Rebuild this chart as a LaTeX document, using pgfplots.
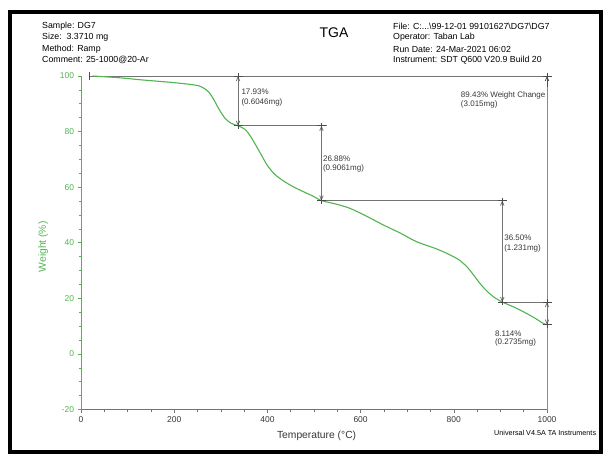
\documentclass[border=0pt]{standalone}
\usepackage{fontspec}
\setmainfont{Liberation Sans}
\usepackage{pgfplots}
\pgfplotsset{compat=1.18}
\usetikzlibrary{arrows.meta}
\definecolor{tgagreen}{RGB}{80,180,80}
\definecolor{anngray}{RGB}{115,115,115}
\definecolor{txtgray}{RGB}{55,55,55}
\newcommand{\hdr}{\fontsize{8.8bp}{10bp}\selectfont}
\newcommand{\ann}{\fontsize{8bp}{9bp}\selectfont}
\newcommand{\varrow}[3]{%
  \draw[anngray, line width=0.8bp, {Straight Barb[length=4bp,width=3.5bp]}-{Straight Barb[length=4bp,width=3.5bp]}] (axis cs:#1,#2) -- (axis cs:#1,#3);
  \draw[black!70, line width=0.8bp] ([xshift=-4.5bp]axis cs:#1,#2) -- ([xshift=4.5bp]axis cs:#1,#2);
  \draw[black!70, line width=0.8bp] ([yshift=3bp]axis cs:#1,#2) -- ([yshift=-3bp]axis cs:#1,#2);
  \draw[black!70, line width=0.8bp] ([xshift=-4.5bp]axis cs:#1,#3) -- ([xshift=4.5bp]axis cs:#1,#3);
  \draw[black!70, line width=0.8bp] ([yshift=3bp]axis cs:#1,#3) -- ([yshift=-3bp]axis cs:#1,#3);
}
\begin{document}
\begin{tikzpicture}
\useasboundingbox (0bp,0bp) rectangle (605bp,455bp);
\draw[line width=4bp] (9.5bp,3bp) rectangle (601bp,443bp);
% header left
\node[anchor=west, font=\hdr, inner sep=0] at (42bp,429bp) {Sample: DG7};
\node[anchor=west, font=\hdr, inner sep=0] at (42bp,417.5bp) {Size:\ \ 3.3710 mg};
\node[anchor=west, font=\hdr, inner sep=0] at (42bp,406bp) {Method: Ramp};
\node[anchor=west, font=\hdr, inner sep=0] at (42bp,395bp) {Comment: 25-1000@20-Ar};
% title
\node[font=\fontsize{14bp}{16bp}\selectfont, inner sep=0] at (334bp,422bp) {TGA};
% header right
\node[anchor=west, font=\hdr, inner sep=0] at (393bp,429bp) {File: C:...\textbackslash 99-12-01 99101627\textbackslash DG7\textbackslash DG7};
\node[anchor=west, font=\hdr, inner sep=0] at (393bp,417.5bp) {Operator: Taban Lab};
\node[anchor=west, font=\hdr, inner sep=0] at (393bp,406bp) {Run Date: 24-Mar-2021 06:02};
\node[anchor=west, font=\hdr, inner sep=0] at (393bp,395bp) {Instrument: SDT Q600 V20.9 Build 20};
% footer
\node[anchor=west, font=\fontsize{7.2bp}{8bp}\selectfont, inner sep=0] at (494bp,22bp) {Universal V4.5A TA Instruments};
\begin{axis}[
  at={(81bp,45.4bp)}, anchor=south west,
  scale only axis, width=466bp, height=333.6bp,
  xmin=0, xmax=1000, ymin=-20, ymax=100,
  clip=false,
  axis x line*=bottom, axis y line*=left,
  x axis line style={anngray, line width=0.8bp, -},
  y axis line style={tgagreen, line width=0.8bp, -},
  xtick={0,200,...,1000}, ytick={-20,0,...,100},
  minor x tick num=3, minor y tick num=3,
  tick align=outside,
  major tick length=3.5bp, minor tick length=2.5bp,
  x tick style={anngray, line width=0.6bp},
  y tick style={tgagreen, line width=0.6bp},
  x tick label style={font=\fontsize{8.5bp}{9bp}\selectfont, text=txtgray},
  y tick label style={font=\fontsize{8.5bp}{9bp}\selectfont, text=tgagreen},
  /pgf/number format/assume math mode=true,
  /pgf/number format/set thousands separator={},
  xlabel={Temperature (°C)},
  ylabel={Weight (\%)},
  every axis x label/.style={at={([xshift=2.6bp,yshift=-26.4bp]axis description cs:0.5,0)}, anchor=center, font=\fontsize{10.3bp}{11bp}\selectfont, text=txtgray},
  every axis y label/.style={at={([xshift=-37.7bp,yshift=-4bp]axis description cs:0,0.5)}, anchor=center, rotate=90, font=\fontsize{10.3bp}{11bp}\selectfont, text=tgagreen},
]
% reference lines
\draw[anngray, line width=0.8bp] (axis cs:19,100) -- (axis cs:1010,100);
\draw[black!70, line width=0.8bp] ([yshift=4bp]axis cs:19,100) -- ([yshift=-4bp]axis cs:19,100);
\draw[anngray, line width=0.8bp] (axis cs:337,82.07) -- (axis cs:527,82.07);
\draw[anngray, line width=0.8bp] (axis cs:516,55.19) -- (axis cs:913,55.19);
\draw[anngray, line width=0.8bp] (axis cs:904,18.69) -- (axis cs:1010,18.69);
% green vertical at 1000
\draw[tgagreen, line width=1bp] (axis cs:1000,100) -- (axis cs:1000,-20);
\draw[black!70, line width=0.8bp, -{Straight Barb[length=4bp,width=3.5bp]}] (axis cs:1000,96) -- (axis cs:1000,100);
\draw[black!70, line width=0.8bp] ([xshift=-4.5bp]axis cs:1000,100) -- ([xshift=4.5bp]axis cs:1000,100);
\draw[black!70, line width=0.8bp] ([yshift=3bp]axis cs:1000,100) -- ([yshift=-3bp]axis cs:1000,100);
% curve
\addplot[tgagreen, line width=1.1bp, smooth, tension=0.45] coordinates {
(25,100) (80,99.4) (130,98.6) (200,97.6) (252,96.5) (273,94.4) (285,91.5)
(295,88.4) (309,84.8) (322,83.0) (337,82.07) (352,80.8) (365,78.0) (384,72.5)
(400,67.8) (416,64.6) (434,62.3) (455,60.2) (477,58.4) (500,56.6) (516,55.19)
(550,53.8) (577,52.4) (610,49.8) (649,46.4) (685,43.5) (720,40.4) (760,38)
(785,36.2) (810,34) (828,31.4) (842,28.5) (856,25.4) (870,22.8) (885,20.6)
(904,18.69) (930,16.8) (956,14.6) (975,12.8) (992,11) (1000,10.57)
};
% step arrows
\varrow{337}{100}{82.07}
\varrow{516}{82.07}{55.19}
\varrow{904}{55.19}{18.69}
\varrow{1000}{18.69}{10.57}
% texts
\node[anchor=west, font=\ann, text=txtgray, inner sep=0] at (axis cs:344,94.2) {17.93\%};
\node[anchor=west, font=\ann, text=txtgray, inner sep=0] at (axis cs:344,90.4) {(0.6046mg)};
\node[anchor=west, font=\ann, text=txtgray, inner sep=0] at (axis cs:519,70.4) {26.88\%};
\node[anchor=west, font=\ann, text=txtgray, inner sep=0] at (axis cs:519,66.8) {(0.9061mg)};
\node[anchor=west, font=\ann, text=txtgray, inner sep=0] at (axis cs:908,41.8) {36.50\%};
\node[anchor=west, font=\ann, text=txtgray, inner sep=0] at (axis cs:908,38) {(1.231mg)};
\node[anchor=west, font=\ann, text=txtgray, inner sep=0] at (axis cs:888,7.4) {8.114\%};
\node[anchor=west, font=\ann, text=txtgray, inner sep=0] at (axis cs:888,4.2) {(0.2735mg)};
\node[anchor=west, font=\ann, text=txtgray, inner sep=0] at (axis cs:815,92.9) {89.43\% Weight Change};
\node[anchor=west, font=\ann, text=txtgray, inner sep=0] at (axis cs:815,89.8) {(3.015mg)};
\end{axis}
\end{tikzpicture}
\end{document}
